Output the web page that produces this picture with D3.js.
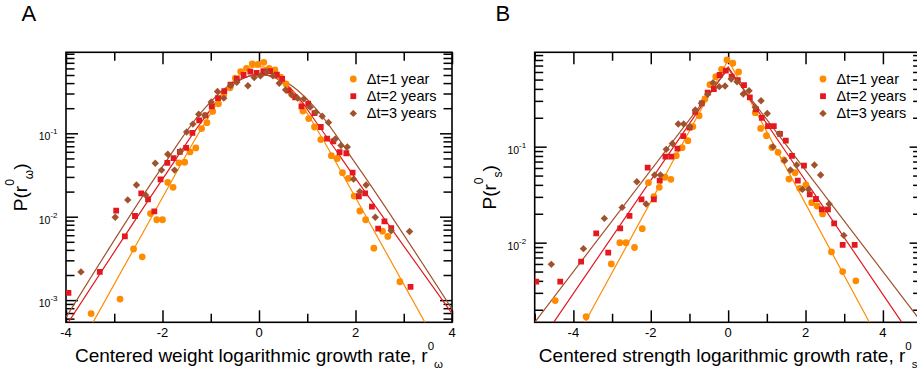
<!DOCTYPE html>
<html>
<head>
<meta charset="utf-8">
<script src="https://cdn.jsdelivr.net/npm/d3@7"></script>
<style>
  html, body { margin: 0; padding: 0; background: #fff; }
  svg { display: block; font-family: "Liberation Sans", Arial, Helvetica, sans-serif; }
</style>
</head>
<body>
<svg id="chart" width="917" height="376"></svg>
<script>
// ---------- Panel A: centered weight log growth rate ----------
const weightX1 = [-3.48,-2.88,-2.60,-2.42,-2.25,-2.12,-2.00,-1.89,-1.78,-1.66,-1.54,-1.43,-1.31,-1.19,-1.08,-0.96,-0.84,-0.73,-0.60,-0.49,-0.38,-0.26,-0.14,-0.02,0.10,0.21,0.33,0.45,0.56,0.68,0.91,1.03,1.15,1.28,1.50,1.62,1.73,1.85,1.97,2.09,2.21,2.38,2.56,2.67,2.92];
const weightP1 = [0.00069,0.00103,0.0041,0.0033,0.0109,0.0092,0.0092,0.0258,0.0225,0.0443,0.045,0.0598,0.0668,0.114,0.134,0.183,0.226,0.289,0.351,0.457,0.549,0.601,0.678,0.67,0.71,0.60,0.574,0.47,0.391,0.292,0.185,0.150,0.119,0.084,0.054,0.0499,0.0337,0.0288,0.0177,0.0117,0.0092,0.0042,0.0067,0.0058,0.00166];

const weightX2 = [-3.95,-3.30,-2.96,-2.78,-2.57,-2.44,-2.30,-2.17,-2.04,-1.90,-1.77,-1.64,-1.51,-1.38,-1.24,-1.11,-0.98,-0.85,-0.72,-0.59,-0.46,-0.32,-0.18,-0.05,0.09,0.23,0.37,0.48,0.61,0.75,0.88,1.02,1.15,1.28,1.41,1.54,1.67,1.81,1.94,2.07,2.20,2.34,2.47,2.60,2.74,3.14];
const weightP2 = [0.00122,0.00218,0.0118,0.0058,0.0102,0.0190,0.0162,0.0116,0.028,0.0443,0.0504,0.0598,0.0668,0.101,0.143,0.164,0.210,0.264,0.320,0.384,0.449,0.50,0.549,0.530,0.555,0.555,0.506,0.449,0.326,0.27,0.210,0.226,0.175,0.119,0.0863,0.080,0.0593,0.0577,0.0337,0.0176,0.019,0.0132,0.0072,0.0088,0.0073,0.00144];

const weightX3 = [-3.69,-2.98,-2.72,-2.54,-2.35,-2.15,-2.02,-1.89,-1.75,-1.63,-1.50,-1.37,-1.25,-1.12,-0.99,-0.86,-0.73,-0.59,-0.46,-0.23,-0.10,0.03,0.16,0.29,0.42,0.55,0.68,0.80,0.93,1.06,1.18,1.31,1.44,1.58,1.70,1.83,1.96,2.09,2.22,2.41,2.74,3.12];
const weightP3 = [0.00218,0.00986,0.0159,0.024,0.0182,0.0438,0.0362,0.0562,0.0362,0.061,0.1037,0.129,0.169,0.164,0.237,0.317,0.264,0.374,0.409,0.371,0.466,0.488,0.544,0.488,0.398,0.332,0.29,0.264,0.259,0.206,0.179,0.160,0.135,0.0855,0.0713,0.0687,0.0282,0.020,0.024,0.00986,0.00678,0.00665];

// fitted curves, panel A
const weightFitX1 = [-3.5,-2.0,-1.2,-0.7,-0.35,0,0.35,0.7,1.2,2.0,3.5];
const weightFitP1 = [0.000468,0.0170,0.112,0.316,0.537,0.631,0.537,0.316,0.112,0.0170,0.000468];
const weightFitX2 = [-4,-2,-1.2,-0.7,-0.35,0,0.35,0.7,1.2,2,4];
const weightFitP2 = [0.00049,0.0282,0.135,0.316,0.447,0.513,0.457,0.324,0.132,0.0288,0.00069];
const weightFitX3 = [-4,-2,-1.2,-0.7,-0.35,0,0.35,0.7,1.2,2,4];
const weightFitP3 = [0.00062,0.0398,0.178,0.347,0.457,0.501,0.468,0.363,0.191,0.0437,0.00078];

// ---------- Panel B: centered strength log growth rate ----------
const strengthX1 = [-4.47,-3.67,-3.02,-2.80,-2.64,-2.42,-2.22,-2.06,-1.92,-1.78,-1.63,-1.48,-1.34,-1.19,-1.04,-0.91,-0.75,-0.60,-0.47,-0.32,-0.17,-0.03,0.12,0.27,0.70,0.84,0.99,1.13,1.29,1.44,1.57,1.73,1.85,2.01,2.16,2.30,2.44,2.67,2.96,3.30];
const strengthP1 = [0.00249,0.00169,0.0060,0.010,0.010,0.0089,0.0140,0.0422,0.0301,0.0377,0.048,0.0457,0.0806,0.0977,0.1155,0.162,0.21,0.314,0.443,0.536,0.64,0.80,0.74,0.60,0.226,0.155,0.130,0.098,0.0873,0.0727,0.046,0.0535,0.0368,0.0399,0.0261,0.0241,0.0199,0.0080,0.0050,0.0040];

const strengthX2 = [-4.96,-4.34,-3.80,-3.41,-3.10,-2.79,-2.55,-2.24,-2.08,-1.92,-1.77,-1.62,-1.47,-1.31,-1.16,-1.00,-0.85,-0.68,-0.53,-0.37,-0.22,-0.06,0.09,0.25,0.41,0.56,0.72,0.87,1.03,1.18,1.34,1.49,1.65,1.80,1.96,2.11,2.27,2.42,2.58,2.74,2.96,3.27];
const strengthP2 = [0.00393,0.00393,0.00634,0.0125,0.00787,0.0141,0.0190,0.0282,0.0604,0.0282,0.0443,0.0787,0.0787,0.0953,0.129,0.158,0.230,0.283,0.365,0.399,0.558,0.62,0.536,0.494,0.438,0.327,0.245,0.200,0.164,0.164,0.136,0.1155,0.080,0.0443,0.0634,0.0319,0.0285,0.0222,0.0222,0.0159,0.00946,0.00946];

const strengthX3 = [-4.57,-3.74,-3.20,-2.74,-2.36,-2.12,-1.90,-1.75,-1.60,-1.44,-1.29,-1.15,-0.99,-0.85,-0.69,-0.53,-0.39,-0.23,-0.08,0.08,0.23,0.39,0.54,0.70,0.85,1.01,1.16,1.32,1.46,1.61,1.77,1.92,2.08,2.23,2.39,2.61,2.99];
const strengthP3 = [0.00594,0.00866,0.0179,0.0233,0.0431,0.0253,0.0507,0.0507,0.0938,0.108,0.172,0.172,0.161,0.241,0.283,0.351,0.464,0.422,0.428,0.507,0.475,0.354,0.383,0.257,0.301,0.222,0.10,0.136,0.0715,0.0571,0.0644,0.0359,0.0359,0.0644,0.0507,0.0253,0.0119];

// fitted lines, panel B
const strengthFitX1 = [-3.7,0,3.65];
const strengthFitP1 = [0.00148,0.80,0.00148];
const strengthFitX2 = [-4.51,0,4.49];
const strengthFitP2 = [0.00148,0.675,0.00148];
const strengthFitX3 = [-5,0,5];
const strengthFitP3 = [0.00148,0.645,0.00148];

// axis ticks and labels
const xMajorA = [-4,-2,0,2,4], xMinorA = [-3,-1,1,3];
const xMajorB = [-4,-2,0,2,4], xMinorB = [-5,-3,-1,1,3,5];
const legendLabels = ["\u0394t=1 year", "\u0394t=2 years", "\u0394t=3 years"];
const seriesColors = ["#ff8c00", "#e3191f", "#a0522d"];
const markerKinds = ["circle", "square", "diamond"];

const svg = d3.select("#chart");

function markerPath(kind) {
  if (kind === "circle") return d3.symbol(d3.symbolCircle, Math.PI * 3.4 * 3.4)();
  if (kind === "square") return d3.symbol(d3.symbolSquare, 5.8 * 5.8)();
  const r = 3.7;
  return `M0,${-r}L${r},0L0,${r}L${-r},0Z`;
}

function drawPanel(cfg) {
  const { id, left, right, top, bottom, xDomain, yDomain, xMajor, xMinor,
          series, fits, letter, letterX, titleMain, titleSub, ytitleSub, ytitleX, legendX } = cfg;
  const x = d3.scaleLinear().domain(xDomain).range([left, right]);
  const y = d3.scaleLog().domain(yDomain).range([bottom, top]);
  const g = svg.append("g");

  const clipId = "clip-" + id;
  svg.append("clipPath").attr("id", clipId)
    .append("rect").attr("x", left).attr("y", top)
    .attr("width", right - left).attr("height", bottom - top);

  // ticks: major/minor on all four sides, pointing inward
  const allY = y.ticks();
  const yMajor = allY.filter(v => Math.abs(Math.log10(v) - Math.round(Math.log10(v))) < 1e-9);
  const yMinor = allY.filter(v => !yMajor.includes(v));

  const tickG = g.append("g").attr("class", "ticks");
  function addAxis(axisGen, tx, ty) {
    const a = tickG.append("g").attr("transform", `translate(${tx},${ty})`).call(axisGen);
    a.select(".domain").remove();
    a.selectAll("text").remove();
    a.selectAll("line").attr("stroke", "#000").attr("stroke-width", 1.5);
    return a;
  }
  addAxis(d3.axisBottom(x).tickValues(xMajor).tickSize(-12), 0, bottom);
  addAxis(d3.axisBottom(x).tickValues(xMinor).tickSize(-8.5), 0, bottom);
  addAxis(d3.axisTop(x).tickValues(xMajor).tickSize(-12), 0, top);
  addAxis(d3.axisTop(x).tickValues(xMinor).tickSize(-8.5), 0, top);
  addAxis(d3.axisLeft(y).tickValues(yMajor).tickSize(-12), left, 0);
  addAxis(d3.axisLeft(y).tickValues(yMinor).tickSize(-8.5), left, 0);
  addAxis(d3.axisRight(y).tickValues(yMajor).tickSize(-12), right, 0);
  addAxis(d3.axisRight(y).tickValues(yMinor).tickSize(-8.5), right, 0);

  // frame
  g.append("rect").attr("x", left).attr("y", top)
    .attr("width", right - left).attr("height", bottom - top)
    .attr("fill", "none").attr("stroke", "#000").attr("stroke-width", 1.6);

  // x tick labels
  g.append("g").selectAll("text").data(xMajor).join("text")
    .attr("x", d => x(d)).attr("y", bottom + 15)
    .attr("text-anchor", "middle").attr("font-size", 13)
    .text(d => d3.format("d")(d).replace("\u2212", "-"));

  // y tick labels: 10^n
  const yl = g.append("g").selectAll("text").data(yMajor).join("text")
    .attr("x", left - 8.5).attr("y", d => y(d) + 7)
    .attr("text-anchor", "end").attr("font-size", 10.5);
  yl.append("tspan").text("10");
  yl.append("tspan").attr("dy", -6).attr("font-size", 8)
    .text(d => "-" + Math.round(-Math.log10(d)));

  // fitted curves
  const plot = g.append("g").attr("clip-path", `url(#${clipId})`);
  fits.forEach((f, i) => {
    const pts = f.x.map((v, k) => [x(v), y(f.p[k])]);
    plot.append("path")
      .attr("d", d3.line().curve(f.smooth ? d3.curveMonotoneX : d3.curveLinear)(pts))
      .attr("fill", "none").attr("stroke", seriesColors[i]).attr("stroke-width", 1.2);
  });

  // data markers
  series.forEach((s, i) => {
    plot.append("g").selectAll("path").data(s.x.map((v, k) => [v, s.p[k]])).join("path")
      .attr("transform", d => `translate(${x(d[0])},${y(d[1])})`)
      .attr("d", markerPath(markerKinds[i]))
      .attr("fill", seriesColors[i]);
  });

  // legend
  legendLabels.forEach((lab, i) => {
    const ly = 79 + i * 17.2;
    g.append("path").attr("transform", `translate(${legendX},${ly})`)
      .attr("d", markerPath(markerKinds[i])).attr("fill", seriesColors[i]);
    g.append("text").attr("x", legendX + 13.5).attr("y", ly + 5)
      .attr("font-size", 14.5).text(lab);
  });

  // x axis title
  const xt = g.append("text").attr("x", (left + right) / 2).attr("y", 361.5)
    .attr("text-anchor", "middle").attr("font-size", 19);
  xt.append("tspan").text(titleMain);
  xt.append("tspan").attr("dy", -12).attr("font-size", 11.5).text("0");
  xt.append("tspan").attr("dy", 18).attr("font-size", 11.5).text(titleSub);

  // y axis title
  const yt = g.append("text")
    .attr("transform", `translate(${ytitleX},${(top + bottom) / 2}) rotate(-90)`)
    .attr("text-anchor", "middle").attr("font-size", 19);
  yt.append("tspan").text("P(r");
  yt.append("tspan").attr("dy", -13).attr("font-size", 12).text("0");
  yt.append("tspan").attr("dy", 19).attr("font-size", 12).text(ytitleSub);
  yt.append("tspan").attr("dy", -6).text(")");

  // panel letter
  g.append("text").attr("x", letterX).attr("y", 21).attr("font-size", 22).text(letter);
}

drawPanel({
  id: "a", left: 66, right: 452, top: 52.3, bottom: 322.3,
  xDomain: [-4, 4], yDomain: [5.42e-4, 0.936],
  xMajor: xMajorA, xMinor: xMinorA,
  series: [{ x: weightX1, p: weightP1 }, { x: weightX2, p: weightP2 }, { x: weightX3, p: weightP3 }],
  fits: [{ x: weightFitX1, p: weightFitP1, smooth: true },
         { x: weightFitX2, p: weightFitP2, smooth: true },
         { x: weightFitX3, p: weightFitP3, smooth: true }],
  letter: "A", letterX: 21.5,
  titleMain: "Centered weight logarithmic growth rate, r", titleSub: "\u03c9",
  ytitleSub: "\u03c9", ytitleX: 26.5, legendX: 353.3
});

drawPanel({
  id: "b", left: 534.7, right: 921.6, top: 52.3, bottom: 322.3,
  xDomain: [-5, 5], yDomain: [1.48e-3, 0.962],
  xMajor: xMajorB, xMinor: xMinorB,
  series: [{ x: strengthX1, p: strengthP1 }, { x: strengthX2, p: strengthP2 }, { x: strengthX3, p: strengthP3 }],
  fits: [{ x: strengthFitX1, p: strengthFitP1, smooth: false },
         { x: strengthFitX2, p: strengthFitP2, smooth: false },
         { x: strengthFitX3, p: strengthFitP3, smooth: false }],
  letter: "B", letterX: 495.5,
  titleMain: "Centered strength logarithmic growth rate, r", titleSub: "s",
  ytitleSub: "s", ytitleX: 496.3, legendX: 823
});
</script>
</body>
</html>
